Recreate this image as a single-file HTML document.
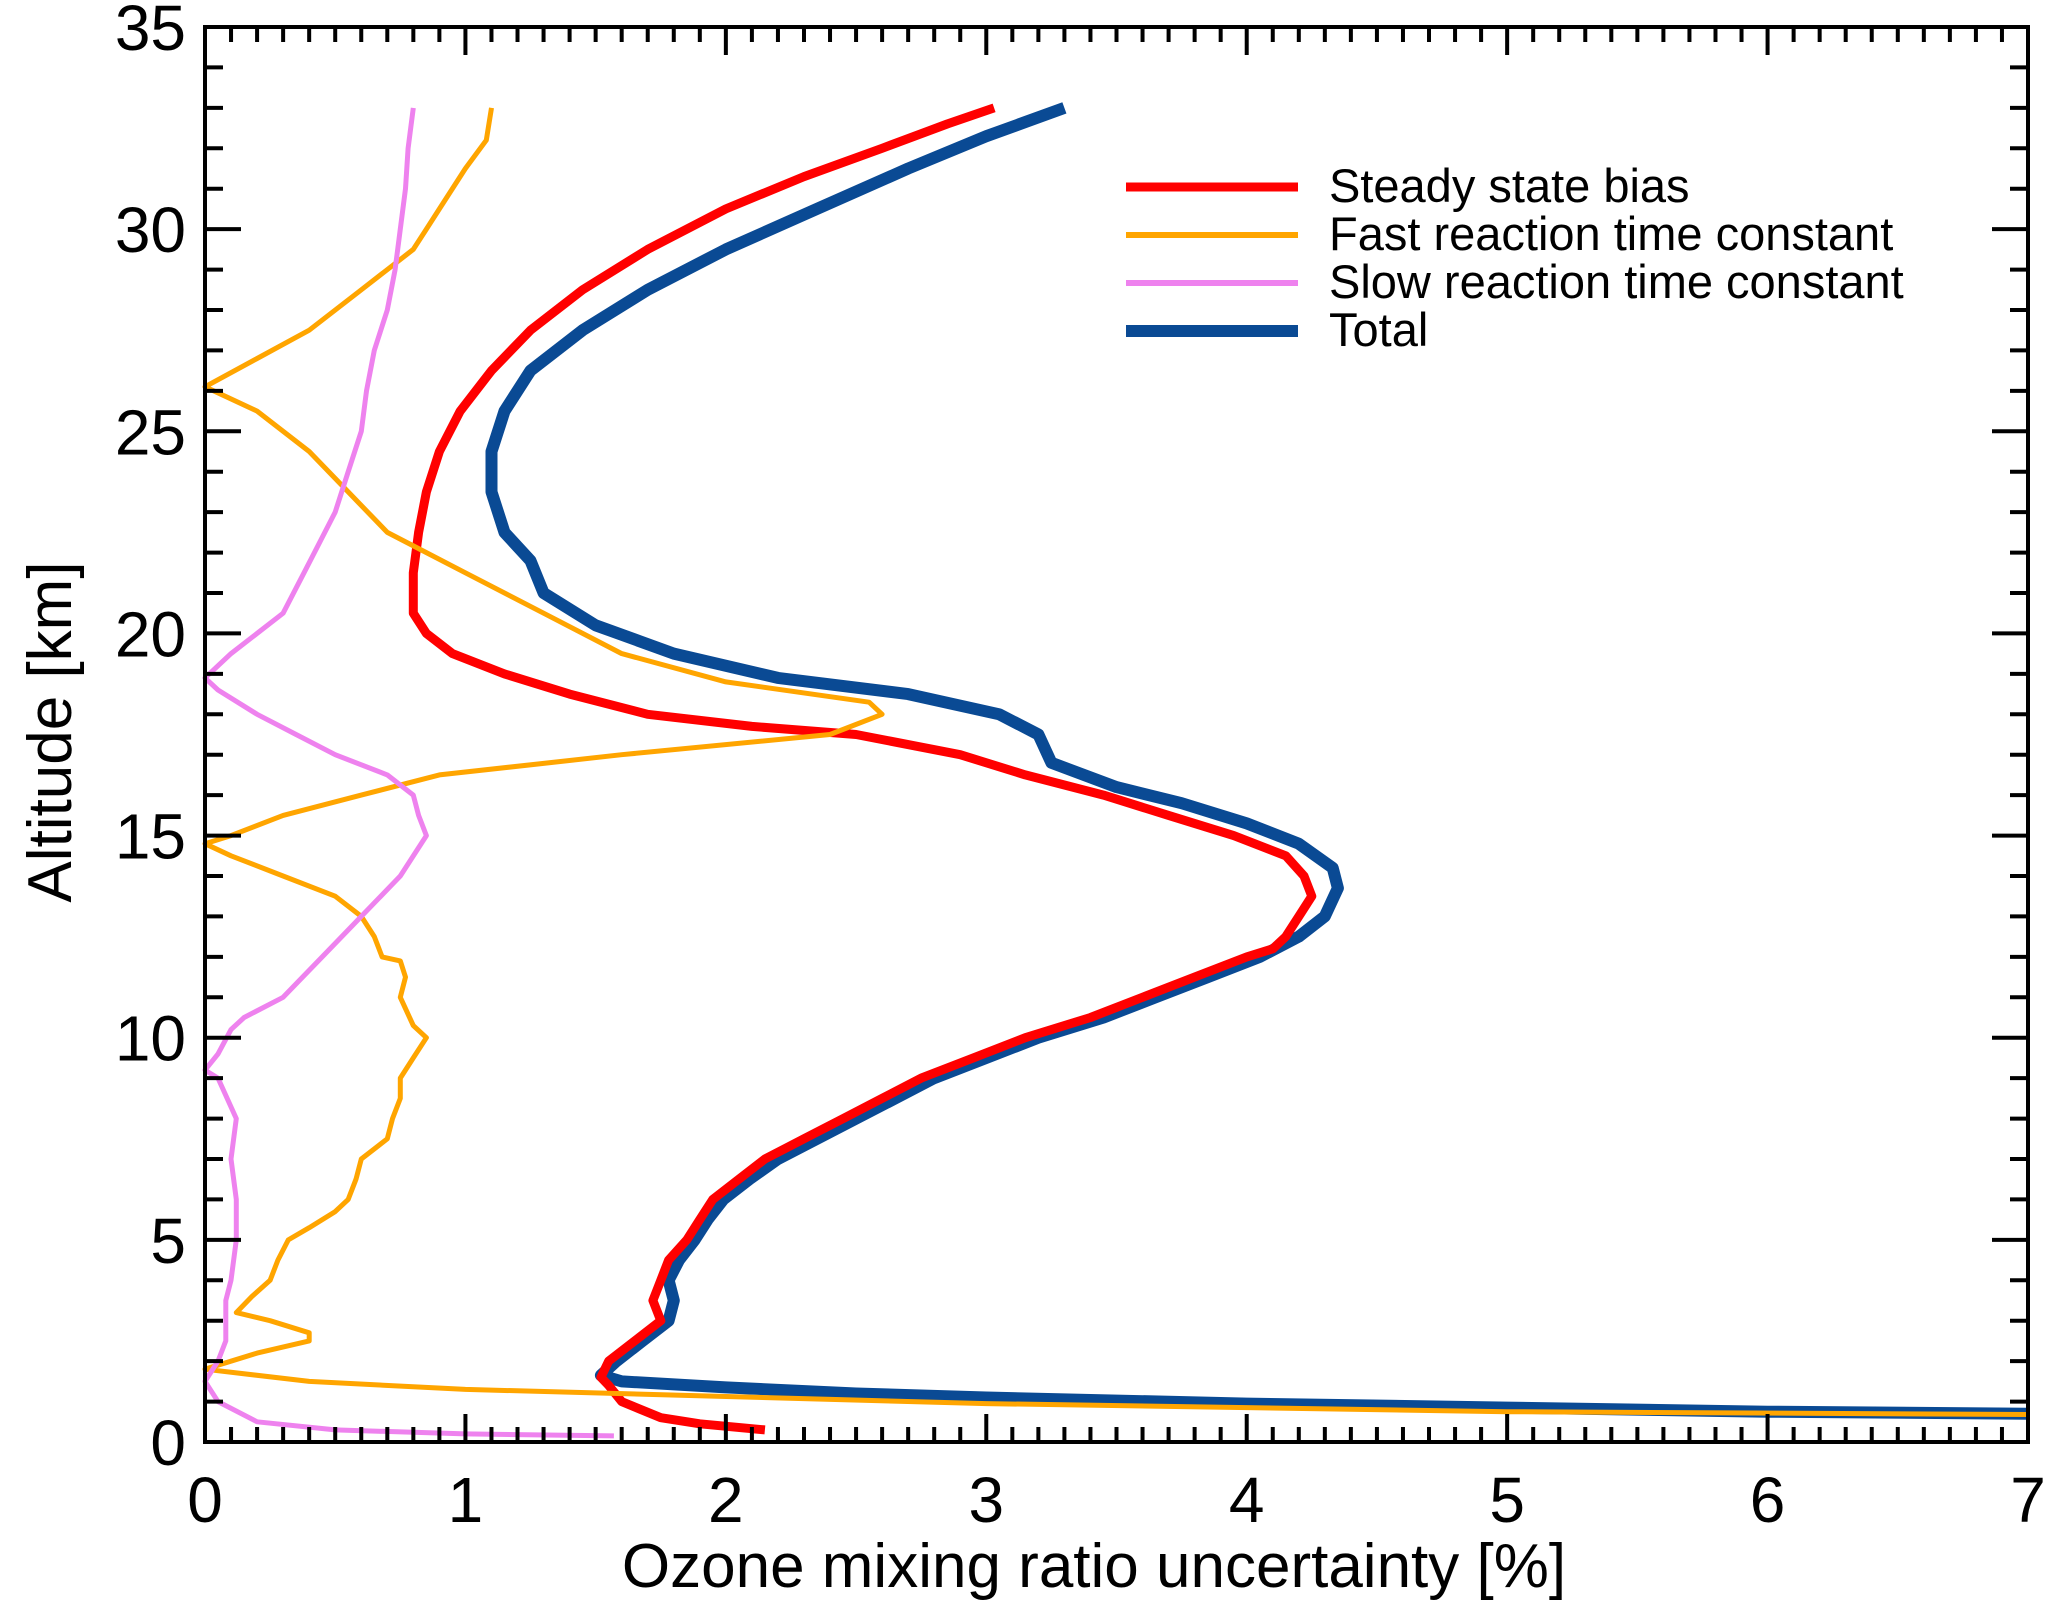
<!DOCTYPE html>
<html><head><meta charset="utf-8"><style>
html,body{margin:0;padding:0;background:#fff;}
svg{display:block;font-family:"Liberation Sans",Arial,sans-serif;}
</style></head><body>
<svg id="chart" width="2067" height="1624" viewBox="0 0 2067 1624">
<g id="series"></g>
<g id="axes"></g>
<g id="legend"></g>
<text x="1094" y="1587" font-size="62" text-anchor="middle">Ozone mixing ratio uncertainty [%]</text>
<text x="0" y="0" font-size="62" text-anchor="middle" transform="translate(71,732) rotate(-90)">Altitude [km]</text>
</svg>
<script>
const xTicks=[0,1,2,3,4,5,6,7];
const yTicks=[0,5,10,15,20,25,30,35];
const seriesNames=["Steady state bias","Fast reaction time constant","Slow reaction time constant","Total"];
const seriesColors=["#ff0000","#ffa500","#ee82ee","#0a4a94"];
const redX=[2.15,1.9,1.75,1.6,1.55,1.52,1.55,1.65,1.75,1.72,1.75,1.78,1.85,1.9,1.95,2.05,2.15,2.3,2.45,2.6,2.75,2.95,3.15,3.4,3.6,3.8,4.0,4.1,4.15,4.2,4.25,4.22,4.15,3.95,3.7,3.45,3.15,2.9,2.5,2.1,1.7,1.4,1.15,0.95,0.85,0.8,0.8,0.82,0.85,0.9,0.98,1.1,1.25,1.45,1.7,2.0,2.3,2.6,2.85,3.03];
const redY=[0.3,0.45,0.6,1.0,1.4,1.6,2.0,2.5,3.0,3.5,4.0,4.5,5.0,5.5,6.0,6.5,7.0,7.5,8.0,8.5,9.0,9.5,10.0,10.5,11.0,11.5,12.0,12.2,12.5,13.0,13.5,14.0,14.5,15.0,15.5,16.0,16.5,17.0,17.5,17.7,18.0,18.5,19.0,19.5,20.0,20.5,21.5,22.5,23.5,24.5,25.5,26.5,27.5,28.5,29.5,30.5,31.3,32.0,32.6,33.0];
const blueX=[7,6,5,4,3,2.5,2,1.6,1.52,1.58,1.68,1.78,1.8,1.78,1.82,1.88,1.93,1.99,2.09,2.2,2.35,2.5,2.65,2.8,3.0,3.2,3.45,3.65,3.85,4.05,4.2,4.3,4.35,4.33,4.2,4.0,3.75,3.5,3.25,3.2,3.05,2.7,2.2,1.8,1.5,1.3,1.25,1.15,1.1,1.1,1.15,1.25,1.45,1.7,2.0,2.35,2.7,3.0,3.3];
const blueY=[0.7,0.75,0.85,0.95,1.1,1.2,1.35,1.5,1.65,2.0,2.5,3.0,3.5,4.0,4.5,5.0,5.5,6.0,6.5,7.0,7.5,8.0,8.5,9.0,9.5,10.0,10.5,11.0,11.5,12.0,12.5,13.0,13.7,14.2,14.8,15.3,15.8,16.2,16.8,17.5,18.0,18.5,18.9,19.5,20.2,21.0,21.8,22.5,23.5,24.5,25.5,26.5,27.5,28.5,29.5,30.5,31.5,32.3,33.0];
const orangeX=[7,5,3,1,0.4,0,0.2,0.4,0.4,0.25,0.12,0.18,0.25,0.28,0.32,0.4,0.5,0.55,0.58,0.6,0.7,0.72,0.75,0.75,0.8,0.85,0.8,0.75,0.77,0.75,0.68,0.65,0.6,0.5,0.3,0.1,0,0.1,0.3,0.6,0.9,1.6,2.4,2.6,2.55,2.0,1.6,1.3,1.0,0.85,0.7,0.55,0.4,0.2,0,0.2,0.4,0.6,0.8,0.85,0.9,1.0,1.08,1.1];
const orangeY=[0.68,0.75,0.95,1.3,1.5,1.8,2.2,2.5,2.7,3.0,3.2,3.6,4.0,4.5,5.0,5.3,5.7,6.0,6.5,7.0,7.5,8.0,8.5,9.0,9.5,10.0,10.3,11.0,11.5,11.9,12.0,12.5,13.0,13.5,14.0,14.5,14.8,15.0,15.5,16.0,16.5,17.0,17.5,18.0,18.3,18.8,19.5,20.5,21.5,22.0,22.5,23.5,24.5,25.5,26.1,26.8,27.5,28.5,29.5,30.0,30.5,31.5,32.2,33.0];
const pinkX=[1.57,1.0,0.5,0.2,0.05,0,0.05,0.08,0.08,0.1,0.12,0.12,0.1,0.12,0.05,0,0.05,0.1,0.15,0.3,0.45,0.6,0.75,0.85,0.82,0.8,0.7,0.5,0.35,0.2,0.05,0,0.1,0.2,0.3,0.38,0.42,0.5,0.55,0.6,0.62,0.65,0.7,0.73,0.75,0.77,0.78,0.8];
const pinkY=[0.15,0.2,0.3,0.5,1.0,1.5,2.0,2.5,3.5,4.0,5.0,6.0,7.0,8.0,9.0,9.2,9.6,10.2,10.5,11.0,12.0,13.0,14.0,15.0,15.5,16.0,16.5,17.0,17.5,18.0,18.6,18.9,19.5,20.0,20.5,21.5,22.0,23.0,24.0,25.0,26.0,27.0,28.0,29.0,30.0,31.0,32.0,33.0];

const L=205,R=2028,T=27,B=1442;
const xs=v=>L+(v/7)*(R-L);
const ys=v=>B-(v/35)*(B-T);
const NS="http://www.w3.org/2000/svg";
function mk(tag,parent){const e=document.createElementNS(NS,tag);parent.appendChild(e);return e;}

const sg=document.getElementById('series');
function line(xa,ya,color,w,name){
  const p=mk('polyline',sg);
  p.setAttribute('points',xa.map((x,i)=>xs(x).toFixed(1)+','+ys(ya[i]).toFixed(1)).join(' '));
  p.setAttribute('fill','none');p.setAttribute('stroke',color);p.setAttribute('stroke-width',w);
  p.setAttribute('stroke-linejoin','round');
  
  
}
line(blueX,blueY,seriesColors[3],12,'total-line');
line(redX,redY,seriesColors[0],9,'steady-state-bias-line');
line(orangeX,orangeY,seriesColors[1],5,'fast-reaction-line');
line(pinkX,pinkY,seriesColors[2],5,'slow-reaction-line');

const ag=document.getElementById('axes');
const fr=mk('rect',ag);
fr.setAttribute('x',L);fr.setAttribute('y',T);fr.setAttribute('width',R-L);fr.setAttribute('height',B-T);
fr.setAttribute('fill','none');fr.setAttribute('stroke','#000');fr.setAttribute('stroke-width',4);


function tick(x1,y1,x2,y2){const t=mk('line',ag);t.setAttribute('x1',x1);t.setAttribute('y1',y1);t.setAttribute('x2',x2);t.setAttribute('y2',y2);t.setAttribute('stroke','#000');t.setAttribute('stroke-width',4);

}
for(let i=0;i<=35;i++){const y=ys(i);const len=(i%5===0)?36:18;tick(L,y,L+len,y);tick(R,y,R-len,y);}
for(let i=0;i<=70;i++){const v=i*0.1;const x=xs(v);const len=(i%10===0)?28:15;tick(x,B,x,B-len);tick(x,T,x,T+len);}
xTicks.forEach(v=>{const t=mk('text',ag);t.setAttribute('x',xs(v));t.setAttribute('y',1522);t.setAttribute('font-size',64);t.setAttribute('text-anchor','middle');t.textContent=v;

});
yTicks.forEach(v=>{const t=mk('text',ag);t.setAttribute('x',186);t.setAttribute('y',ys(v)+23);t.setAttribute('font-size',64);t.setAttribute('text-anchor','end');t.textContent=v;

});

const lg=document.getElementById('legend');
const lw=[9,6,6,12];
seriesNames.forEach((n,i)=>{
  const y=187+48*i;
  const l=mk('line',lg);l.setAttribute('x1',1126);l.setAttribute('x2',1298);l.setAttribute('y1',y);l.setAttribute('y2',y);
  l.setAttribute('stroke',seriesColors[i]);l.setAttribute('stroke-width',lw[i]);
  
  
  const t=mk('text',lg);t.setAttribute('x',1329);t.setAttribute('y',y+15);t.setAttribute('font-size',47);t.textContent=n;
  
  
});
</script>
</body></html>
